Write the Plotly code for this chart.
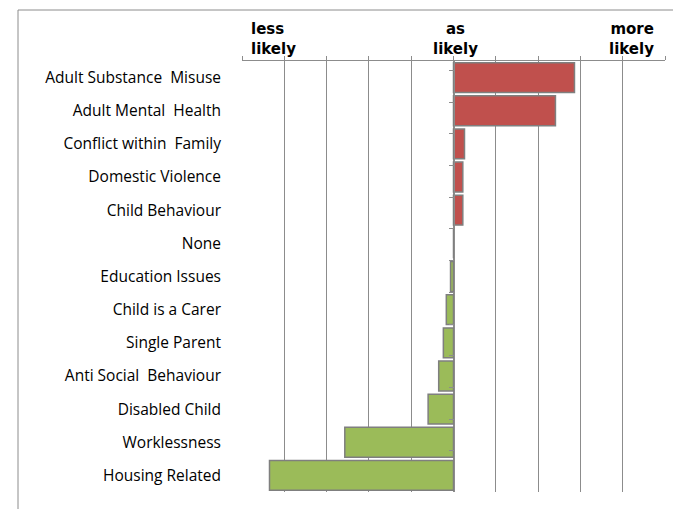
import plotly.graph_objects as go

categories = ["Adult Substance  Misuse", "Adult Mental  Health", "Conflict within  Family",
              "Domestic Violence", "Child Behaviour", "None", "Education Issues",
              "Child is a Carer", "Single Parent", "Anti Social  Behaviour",
              "Disabled Child", "Worklessness", "Housing Related"]
values = [2.86, 2.41, 0.26, 0.22, 0.22, 0.0, -0.07, -0.17, -0.24, -0.35, -0.6, -2.57, -4.35]
tick_vals = [-5, -4, -3, -2, -1, 0, 1, 2, 3, 4, 5]
header_labels = ["less<br>likely", "as<br>likely", "more<br>likely"]
header_pos = [-5, 0, 5]

RED = "#C0504D"
GREEN = "#9BBB59"
EDGE = "#7F7F7F"
GRID = "#8C8C8C"

colors = [RED if v > 0 else GREEN for v in values]

fig = go.Figure()
fig.add_trace(go.Bar(
    x=values, y=categories, orientation="h",
    marker=dict(color=colors, line=dict(color=EDGE, width=1.5)),
    width=0.9, showlegend=False, hoverinfo="skip"))
fig.add_trace(go.Scatter(
    x=[0] * len(categories), y=categories, yaxis="y2", mode="markers",
    marker=dict(opacity=0), showlegend=False, hoverinfo="skip"))

W, H = 673, 509
L, R, T, B = 242, 8, 61, 17
pw, ph = W - L - R, H - T - B

fig.update_layout(
    width=W, height=H,
    margin=dict(l=L, r=R, t=T, b=B),
    paper_bgcolor="white", plot_bgcolor="white",
    xaxis=dict(side="top", range=[-5, 5], tickvals=tick_vals, showticklabels=False,
               showgrid=True, gridcolor=GRID, gridwidth=1, zeroline=False,
               showline=True, linecolor=GRID, linewidth=1,
               ticks="outside", ticklen=4, tickcolor=GRID, fixedrange=True),
    yaxis=dict(categoryorder="array", categoryarray=categories, autorange="reversed",
               showgrid=False, zeroline=False, showline=False, ticks="",
               ticklabelstandoff=20,
               tickfont=dict(family="Open Sans", size=15.5, color="#000000")),
    yaxis2=dict(categoryorder="array", categoryarray=categories, autorange="reversed",
                overlaying="y", anchor="free", position=0.5, side="left",
                showticklabels=False, showgrid=False, zeroline=False,
                showline=True, linecolor=GRID, linewidth=1,
                ticks="outside", tickson="boundaries", ticklen=5, tickcolor=GRID),
)

aligns = ["left", "center", "right"]
shifts = [7, 2, -9]
for txt, pos, al, sh in zip(header_labels, header_pos, aligns, shifts):
    fig.add_annotation(x=pos, xref="x", y=1, yref="paper", text="<b>" + txt + "</b>",
                       showarrow=False, xanchor=al, yanchor="bottom", align=al,
                       xshift=sh, yshift=1,
                       font=dict(family="DejaVu Sans", size=15, color="#000000"))

# outer chart border (left and top edges visible)
fig.add_shape(type="rect", xref="paper", yref="paper",
              x0=(18 - L) / pw, x1=(W + 20 - L) / pw,
              y0=-(B + 20) / ph, y1=1 + (T - 10) / ph,
              line=dict(color="#8C8C8C", width=1), layer="below")

fig.write_html("out.html", config={"displayModeBar": False},
               post_script="document.body.style.margin='0';document.body.style.overflow='hidden';")
